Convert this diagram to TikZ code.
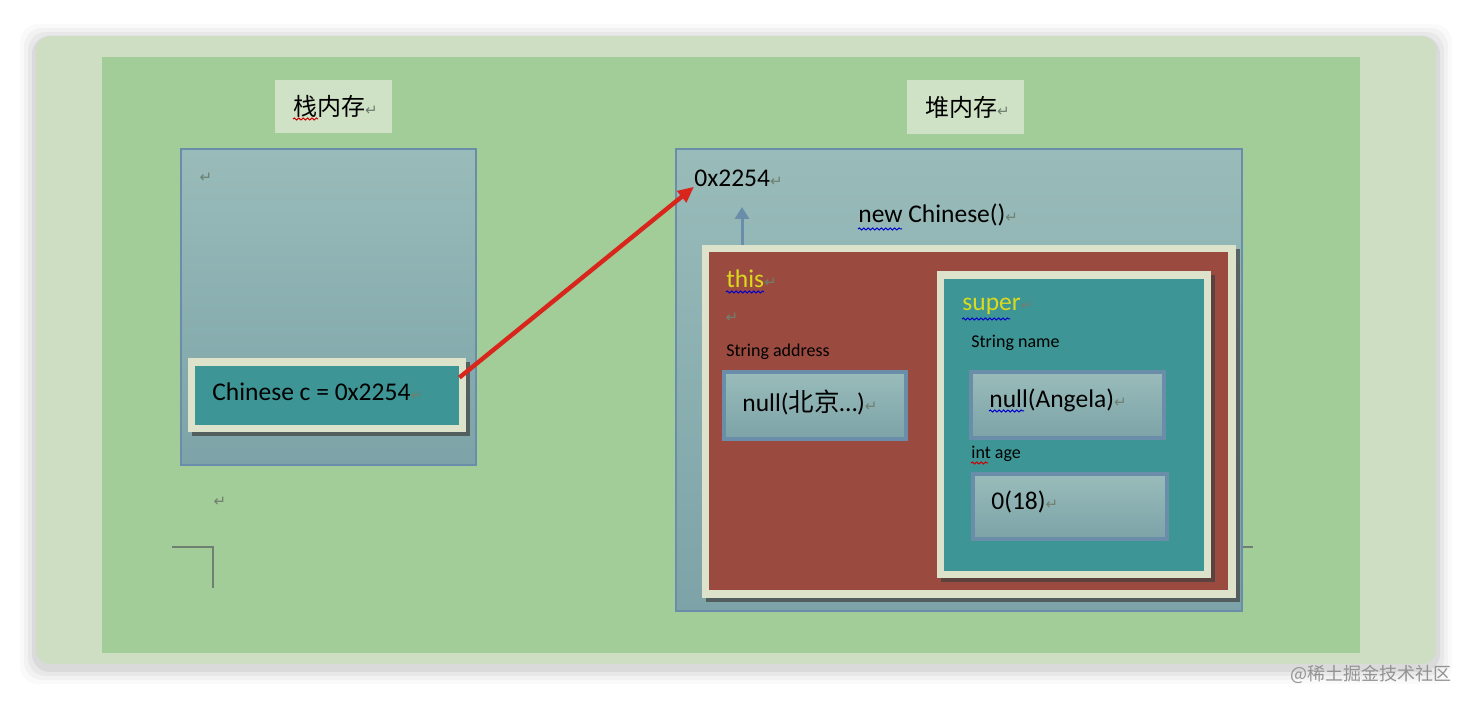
\documentclass[tikz,border=0pt]{standalone}
\usepackage{fontspec}
\setmainfont{Carlito}
\newfontfamily\cjk{Noto Sans CJK SC}
\newfontfamily\symfont{DejaVu Sans}
\usetikzlibrary{calc,positioning,fit,arrows.meta,shadows,decorations.pathmorphing}
\definecolor{pagegreen}{HTML}{CDDEC3}
\definecolor{slidegreen}{HTML}{A2CD98}
\definecolor{titlegreen}{HTML}{D0E2C6}
\definecolor{memtop}{HTML}{99BCBA}
\definecolor{membot}{HTML}{7DA3A8}
\definecolor{memline}{HTML}{6A8DAA}
\definecolor{cream}{HTML}{DCE3CA}
\definecolor{tealfill}{HTML}{3E9595}
\definecolor{objred}{HTML}{9B4A3F}
\definecolor{kwyellow}{HTML}{D9D91E}
\definecolor{refred}{HTML}{D8261C}
\definecolor{pmark}{HTML}{6F7F70}
\newcommand{\enter}{{\symfont\fontsize{7.5}{7.5}\selectfont\color{pmark}↵}}
\tikzset{
  refline/.style={-{Triangle[length=8pt, width=7pt]}, line width=2.2pt, draw=refred},
  upline/.style={-{Triangle[length=6pt, width=7pt]}, line width=1.5pt, draw=memline},
  mem/.style={draw=memline, line width=1.2pt, top color=memtop, bottom color=membot, inner sep=0},
  valbox/.style={mem, line width=1.6pt},
  titlebox/.style={fill=titlegreen, inner sep=0},
  titletext/.style={font=\cjk\fontsize{12}{14}\selectfont, inner sep=0},
  framebox/.style={fill=cream, inner sep=0, drop shadow={shadow xshift=2pt, shadow yshift=-2pt, fill=black!75, opacity=.7}},
  fillbox/.style={inner sep=0},
  bigtext/.style={font=\fontsize{12.75}{14}\selectfont, inner sep=0, anchor=west},
  smalltext/.style={font=\fontsize{9}{10}\selectfont, inner sep=0, anchor=west},
  squig/.style={decorate, decoration={snake, amplitude=0.5pt, segment length=2.2pt}, line width=0.5pt}
}
\begin{document}
\begin{tikzpicture}[x=0.5pt, y=-0.5pt]
  \useasboundingbox (0,0) rectangle (1472,704);
  \fill[white] (0,0) rectangle (1472,704);
  % soft shadow round the page
  \foreach \s/\o in {16/0.02, 12/0.03, 8/0.04, 4/0.06}{
    \fill[black, opacity=\o, rounded corners=9pt] (36-\s,36-\s+4) rectangle (1436+\s,664+\s+4);
  }
  \node[fit={(36,36) (1436,664)}, fill=pagegreen, rounded corners=7pt, inner sep=0] (page) {};
  \node[fit={(102,57) (1360,653)}, fill=slidegreen, inner sep=0] (slide) {};

  % stack
  \node[titlebox, fit={(275,80) (392,133)}] (stacktitle) {};
  \node[titletext] at ($(stacktitle.center)+(2,0)$) {栈内存\enter};
  \node[mem, fit={(181,149) (476,465)}] (stack) {};
  \node[fillbox] at (206,178) {\enter};
  \node[framebox, fit={(188,358) (466,432)}] (varframe) {};
  \node[fillbox, fill=tealfill, fit={(195,366) (459,425)}] (var) {};
  \node[bigtext] (varlbl) at (212,392) {Chinese c = 0x2254\enter};
  \node[fillbox] at (220,502) {\enter};
  \draw[pmark, line width=0.6pt] (172,547) -- (213,547) -- (213,588);
  \draw[pmark, line width=0.6pt] (1240,547) -- (1253,547);

  % heap
  \node[titlebox, fit={(907,80) (1024,134)}] (heaptitle) {};
  \node[titletext] at ($(heaptitle.center)+(2,0)$) {堆内存\enter};
  \node[mem, fit={(676,149) (1242,611)}] (heap) {};
  \node[bigtext] (addr) at (694,178) {0x2254\enter};
  \node[bigtext] (newobj) at (858,215) {new Chinese()\enter};
  \node[framebox, fit={(702,245) (1236,598)}] (thisframe) {};
  \node[fillbox, fill=objred, fit={(709,252) (1228,590)}] (this) {};
  \node[bigtext, text=kwyellow] (thislbl) at (726,279) {this\enter};
  \node[fillbox] at (732,318) {\enter};
  \node[smalltext] (addrlbl) at (726,352) {String address};
  \node[valbox, fit={(724,372) (906,439)}] (addrval) {};
  \node[bigtext] at (742,402) {null({\cjk 北京}…)\enter};

  \node[framebox, fit={(937,271) (1211,578)}] (superframe) {};
  \node[fillbox, fill=tealfill, fit={(944,279) (1204,571)}] (super) {};
  \node[bigtext, text=kwyellow] (superlbl) at (962,306) {super\enter};
  \node[smalltext] (namelbl) at (971,343) {String name};
  \node[valbox, fit={(971,372) (1164,438)}] (nameval) {};
  \node[bigtext] at (989,400) {null(Angela)\enter};
  \node[smalltext] (agelbl) at (971,454) {int age};
  \node[valbox, fit={(973,474) (1167,539)}] (ageval) {};
  \node[bigtext] at (991,502) {0(18)\enter};

  % spell-check marks
  \draw[squig, red!80!black] (293,119) -- (318,119);
  \draw[squig, blue!80!black] (858,229) -- (902,229);
  \draw[squig, blue!80!black] (726,292) -- (764,292);
  \draw[squig, blue!80!black] (962,319) -- (1010,319);
  \draw[squig, blue!80!black] (989,411) -- (1024,411);
  \draw[squig, red!80!black] (971,463) -- (988,463);

  % references
  \coordinate (uptip) at (742,207);
  \draw[upline] (thisframe.north -| uptip) -- (uptip);
  \draw[refline] ($(var.north east)!0.2!(var.south east)$) -- (addr.south west);

  \node[font=\cjk\fontsize{9}{10}\selectfont, text=gray!85, anchor=east, inner sep=0] (mark) at (1452,674) {@稀土掘金技术社区};
\end{tikzpicture}
\end{document}
